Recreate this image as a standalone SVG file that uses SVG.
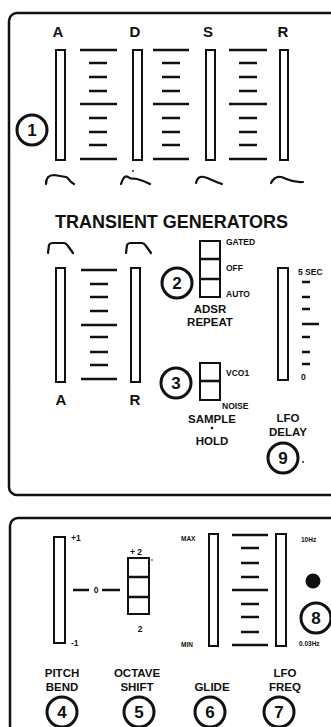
<svg xmlns="http://www.w3.org/2000/svg" width="331" height="727" viewBox="0 0 331 727">
<style>
.panel{fill:none;stroke:#111;stroke-width:2.5}
.sl{fill:#fff;stroke:#111;stroke-width:2}
.tk{stroke:#111;stroke-width:2.6;fill:none}
.env{stroke:#111;stroke-width:2.2;fill:none;stroke-linecap:round;stroke-linejoin:round}
.bc{fill:#fff;stroke:#111;stroke-width:3}
.t{font-family:"Liberation Sans",Arial,sans-serif;font-weight:bold;fill:#111}
.big{font-size:15px}
.mid{font-size:11.5px}
.sm{font-size:8.5px}
.xs{font-size:6.5px}
.num{font-size:17px;text-anchor:middle}
</style>
<rect fill="#fff" x="0" y="0" width="331" height="727"/>
<rect class="panel" x="9" y="13" width="330" height="482" rx="8"/>
<rect class="panel" x="10" y="518" width="330" height="230" rx="8"/>

<g id="adsr-labels">
<text class="t big" x="58" y="37" text-anchor="middle">A</text>
<text class="t big" x="135" y="37" text-anchor="middle">D</text>
<text class="t big" x="208" y="37" text-anchor="middle">S</text>
<text class="t big" x="283" y="37" text-anchor="middle">R</text>
</g>
<g id="adsr-sliders">
<rect class="sl" x="56" y="50" width="9" height="110"/>
<rect class="sl" x="133" y="50" width="9" height="110"/>
<rect class="sl" x="206" y="50" width="9" height="110"/>
<rect class="sl" x="280" y="50" width="8" height="110"/>
</g>
<g id="adsr-scales">
<path class="tk" d="M80,50H117M80,104H117M80,159H117M89,63H107M89,77H107M89,91H107M89,118H107M89,132H107M89,145H107"/>
<path class="tk" d="M153,50H189M153,104H189M153,159H189M162,63H180M162,77H180M162,91H180M162,118H180M162,132H180M162,145H180"/>
<path class="tk" d="M229,50H267M229,104H267M229,159H267M239,63H257M239,77H257M239,91H257M239,118H257M239,132H257M239,145H257"/>
</g>
<g id="adsr-envelopes">
<path class="env" d="M46,184 C46,178 49,175 54,175 L66,177 C69,178 69,182 74,184"/>
<path class="env" d="M121,184 C123,178 125,175 128,177 C131,180 133,178 137,179 C141,180 144,181 150,184"/>
<circle cx="133" cy="171" r="0.9" fill="#111"/>
<path class="env" d="M196,183 C197,178 200,176 204,177 C209,178 213,181 222,184"/>
<path class="env" d="M271,183 C273,179 276,176 281,177 C286,178 291,183 303,182"/>
</g>
<g id="n1">
<circle class="bc" cx="32" cy="130" r="15"/>
<text class="t num" x="32" y="136">1</text>
</g>

<text class="t" x="55" y="228" font-size="17.5" textLength="233" lengthAdjust="spacingAndGlyphs">TRANSIENT GENERATORS</text>

<g id="tg-envelopes">
<path class="env" d="M48,253 L49,245 Q50,243 53,243 L64,243 Q66,243 68,246 L73,253"/>
<path class="env" d="M126,253 L127,245 Q128,243 131,243 L142,243 Q144,243 146,246 L151,253"/>
</g>
<g id="tg-sliders">
<rect class="sl" x="56" y="268" width="9" height="114"/>
<rect class="sl" x="131" y="268" width="9" height="114"/>
<path class="tk" d="M81,270H117M81,325H117M81,379H117M90,284H108M90,297H108M90,311H108M90,337H108M90,352H108M90,365H108"/>
<text class="t big" x="61" y="405" text-anchor="middle">A</text>
<text class="t big" x="135" y="405" text-anchor="middle">R</text>
</g>

<g id="n2">
<circle class="bc" cx="177" cy="283" r="15"/>
<text class="t num" x="177" y="289">2</text>
<rect class="sl" x="200" y="241" width="20" height="56"/>
<path class="tk" stroke-width="2" d="M200,259H220M200,279H220"/>
<text class="t sm" x="226" y="245">GATED</text>
<text class="t sm" x="226" y="271">OFF</text>
<text class="t sm" x="226" y="297">AUTO</text>
<text class="t mid" x="210" y="313" text-anchor="middle">ADSR</text>
<text class="t mid" x="210" y="326" text-anchor="middle">REPEAT</text>
</g>

<g id="n3">
<circle class="bc" cx="176" cy="383" r="15"/>
<text class="t num" x="176" y="389">3</text>
<rect class="sl" x="200" y="363" width="20" height="37"/>
<path class="tk" stroke-width="2" d="M200,381H220"/>
<text class="t sm" x="226" y="376">VCO1</text>
<text class="t sm" x="222" y="409">NOISE</text>
<text class="t mid" x="212" y="423" text-anchor="middle">SAMPLE</text>
<circle cx="212" cy="428" r="1.3" fill="#111"/>
<text class="t mid" x="212" y="445" text-anchor="middle">HOLD</text>
</g>

<g id="lfo-delay">
<rect class="sl" x="278" y="268" width="10" height="112"/>
<text class="t sm" x="298" y="275">5 SEC</text>
<path class="tk" d="M302,282H310M302,297H310M302,309H310M302,324H319M302,337H310M302,352H310M302,364H310"/>
<text class="t sm" x="301" y="380">0</text>
<text class="t mid" x="288" y="422" text-anchor="middle">LFO</text>
<text class="t mid" x="288" y="436" text-anchor="middle">DELAY</text>
</g>
<g id="n9">
<circle class="bc" cx="283" cy="458" r="15"/>
<text class="t num" x="283" y="464">9</text>
<circle cx="303" cy="462" r="0.9" fill="#111"/>
</g>

<g id="pitch-bend">
<rect class="sl" x="54" y="537" width="11" height="106"/>
<text class="t sm" x="71" y="541">+1</text>
<text class="t sm" x="71" y="646">-1</text>
<path class="tk" stroke-width="2" d="M73,590H89M102,590H120"/>
<text class="t sm" x="96" y="593" text-anchor="middle">0</text>
<text class="t mid" x="62" y="677" text-anchor="middle">PITCH</text>
<text class="t mid" x="62" y="691" text-anchor="middle">BEND</text>
</g>
<g id="n4">
<circle class="bc" cx="62" cy="712" r="15"/>
<text class="t num" x="62" y="718">4</text>
</g>

<g id="octave-shift">
<rect class="sl" x="128" y="558" width="21" height="56"/>
<path class="tk" stroke-width="2" d="M128,577H149M128,597H149"/>
<text class="t sm" x="130" y="555">+ 2</text>
<circle cx="152" cy="560" r="0.8" fill="#111"/>
<text class="t sm" x="140" y="632" text-anchor="middle">2</text>
<text class="t mid" x="137" y="677" text-anchor="middle">OCTAVE</text>
<text class="t mid" x="137" y="691" text-anchor="middle">SHIFT</text>
</g>
<g id="n5">
<circle class="bc" cx="139" cy="712" r="15"/>
<text class="t num" x="139" y="718">5</text>
</g>

<g id="glide">
<text class="t xs" x="181" y="541">MAX</text>
<text class="t xs" x="181" y="647">MIN</text>
<rect class="sl" x="209" y="534" width="9" height="112"/>
<path class="tk" d="M232,535H268M232,590H268M232,645H268M241,548H259M241,563H259M241,577H259M241,604H259M241,617H259M241,632H259"/>
<text class="t mid" x="212" y="691" text-anchor="middle">GLIDE</text>
</g>
<g id="n6">
<circle class="bc" cx="210" cy="712" r="15"/>
<text class="t num" x="210" y="718">6</text>
</g>

<g id="lfo-freq">
<rect class="sl" x="276" y="534" width="10" height="112"/>
<text class="t xs" x="301" y="542">10Hz</text>
<circle cx="313" cy="581" r="7.5" fill="#111"/>
<text class="t xs" x="299" y="646">0.03Hz</text>
<text class="t mid" x="285" y="677" text-anchor="middle">LFO</text>
<text class="t mid" x="285" y="691" text-anchor="middle">FREQ</text>
</g>
<g id="n7">
<circle class="bc" cx="279" cy="712" r="15"/>
<text class="t num" x="279" y="718">7</text>
</g>
<g id="n8">
<circle class="bc" cx="316" cy="618" r="15"/>
<text class="t num" x="316" y="624">8</text>
</g>
</svg>
